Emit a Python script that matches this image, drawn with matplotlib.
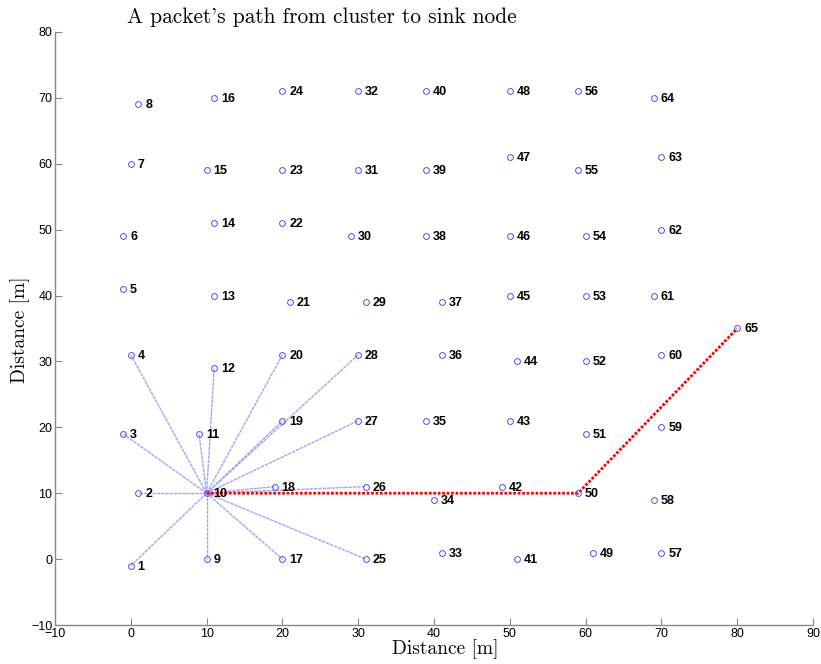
import matplotlib
matplotlib.use("Agg")
import matplotlib.pyplot as plt

# Node coordinates (node i+1 at index i)
node_x = [0, 1, -1, 0, -1, -1, 0, 1,
          10, 10, 9, 11, 11, 11, 10, 11,
          20, 19, 20, 20, 21, 20, 20, 20,
          31, 31, 30, 30, 31, 29, 30, 30,
          41, 40, 39, 41, 41, 39, 39, 39,
          51, 49, 50, 51, 50, 50, 50, 50,
          61, 59, 60, 60, 60, 60, 59, 59,
          70, 69, 70, 70, 69, 70, 70, 69,
          80]
node_y = [-1, 10, 19, 31, 41, 49, 60, 69,
          0, 10, 19, 29, 40, 51, 59, 70,
          0, 11, 21, 31, 39, 51, 59, 71,
          0, 11, 21, 31, 39, 49, 59, 71,
          1, 9, 21, 31, 39, 49, 59, 71,
          0, 11, 21, 30, 40, 49, 61, 71,
          1, 10, 19, 30, 40, 49, 59, 71,
          1, 9, 20, 31, 40, 50, 61, 70,
          35]

cluster_head = 10
cluster_members = [1, 2, 3, 4, 9, 11, 12, 17, 18, 19, 20, 25, 26, 27, 28]
packet_path = [10, 50, 65]

title_text = "A packet's path from cluster to sink node"
xlabel_text = "Distance [m]"
ylabel_text = "Distance [m]"
x_ticks = [-10, 0, 10, 20, 30, 40, 50, 60, 70, 80, 90]
y_ticks = [-10, 0, 10, 20, 30, 40, 50, 60, 70, 80]

fig = plt.figure(figsize=(8.21, 6.64), dpi=100)
ax = fig.add_axes([55/821, 39/664, 758/821, 593/664])

hx, hy = node_x[cluster_head-1], node_y[cluster_head-1]
for m in cluster_members:
    ax.plot([hx, node_x[m-1]], [hy, node_y[m-1]], color=(0.6, 0.6, 1.0),
            lw=1.0, linestyle=(0, (2.5, 0.6)), alpha=0.9, zorder=1)

px = [node_x[i-1] for i in packet_path]
py = [node_y[i-1] for i in packet_path]
ax.plot(px, py, color='red', lw=2.0, linestyle=(0, (1, 0.6)), zorder=2)

ax.plot(node_x, node_y, linestyle='none', marker='o', ms=4.2, mfc='none',
        mec=(0.3, 0.3, 1.0), mew=0.7, zorder=3)

for i, (x, y) in enumerate(zip(node_x, node_y)):
    ax.text(x + 0.9, y - 0.15, str(i+1), fontsize=9, fontweight='bold',
            family='Liberation Sans', ha='left', va='center', zorder=4)

ax.set_xlim(-10, 90)
ax.set_ylim(-10, 80)
ax.set_xticks(x_ticks)
ax.set_yticks(y_ticks)
ax.tick_params(direction='in', length=5, width=0.8, color='#888888',
               labelsize=9, pad=2)
for lbl in ax.get_xticklabels() + ax.get_yticklabels():
    lbl.set_family('Liberation Sans')
for s in ['top', 'right']:
    ax.spines[s].set_visible(False)
for s in ['left', 'bottom']:
    ax.spines[s].set_color('#888888')
    ax.spines[s].set_linewidth(1.0)

fig.text(322/821, 1 - 17/664, title_text, family='cmr10', fontsize=15.4,
         ha='center', va='center')
fig.text(445/821, 1 - 649/664, xlabel_text, family='cmr10', fontsize=14,
         ha='center', va='center')
fig.text(20/821, 1 - 330/664, ylabel_text, family='cmr10', fontsize=14,
         ha='center', va='center', rotation=90)

fig.savefig("out.png", dpi=100)
